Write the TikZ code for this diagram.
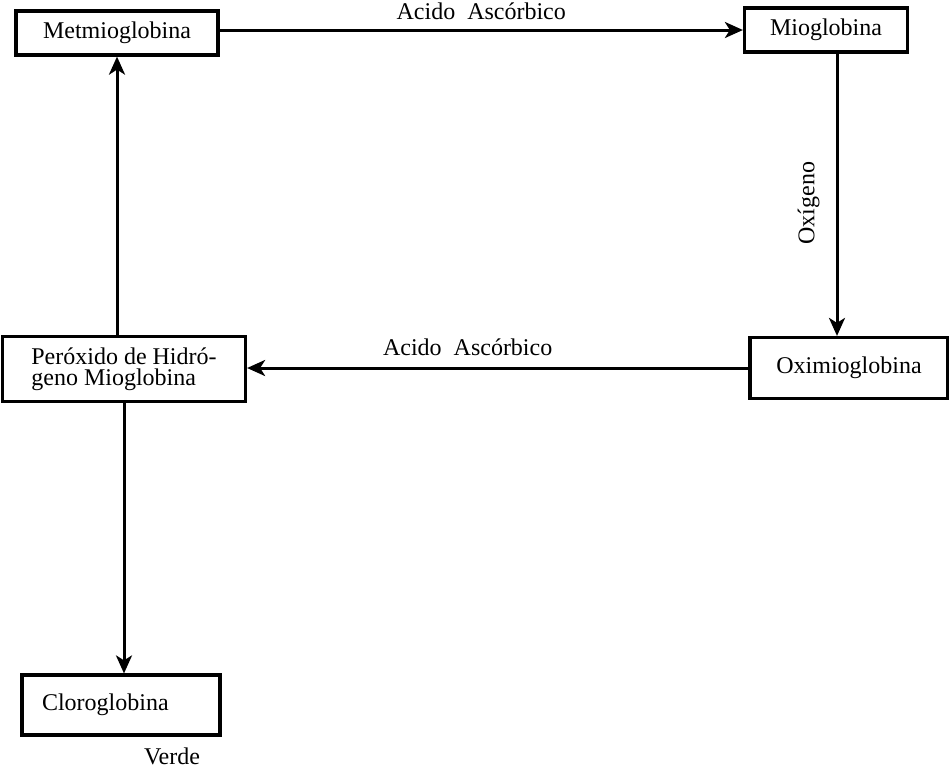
\documentclass[tikz,border=0pt]{standalone}
\usepackage{fontspec}
\setmainfont{Liberation Serif}
\usetikzlibrary{arrows.meta}

\begin{document}
\begin{tikzpicture}[x=0.5pt, y=-0.5pt,
    every node/.style={font=\fontsize{12}{12.5}\selectfont},
    box/.style={draw, line width=1.6pt, minimum height=22pt},
    arr/.style={line width=1.5pt, -{Stealth[length=9pt, width=8pt, inset=2.5pt]}}]
    \useasboundingbox (0,0) rectangle (949,768);
    % Boxes
    \node[box, minimum width=101pt] (met) at (117, 33) {Metmioglobina};
    \node[box, minimum width=81.5pt] (mio) at (826, 30) {Mioglobina};
    \node[box, minimum width=99pt, minimum height=30.5pt] (oxi) at (849, 368) {Oximioglobina};
    \node[box, minimum width=121.5pt, minimum height=32.5pt, align=left] (per) at (124, 369) {Peróxido de Hidró-\\[-2pt]geno Mioglobina};
    \node[box, text width=79pt, inner xsep=10pt, minimum height=30pt, align=left] (clo) at (121, 705) {\raisebox{-3pt}{Cloroglobina}};
    \node (verde) at (172, 756) {Verde};
    % Arrows
    \draw[arr] (met.east |- mio) -- node[midway, above=1pt] {Acido\ \ Ascórbico} (mio.west);
    \draw[arr] ([xshift=5.5pt]mio.south) -- node[pos=0.53, anchor=south, rotate=90, inner sep=8pt] {Oxígeno} ([xshift=5.5pt]mio.south |- oxi.north);
    \draw[arr] (oxi.west) -- node[pos=0.56, above=2pt] {Acido\ \ Ascórbico} (oxi.west -| per.east);
    \draw[arr] (per.north -| met.south) -- (met.south);
    \draw[arr] (per.south) -- (per.south |- clo.north);
\end{tikzpicture}
\end{document}
